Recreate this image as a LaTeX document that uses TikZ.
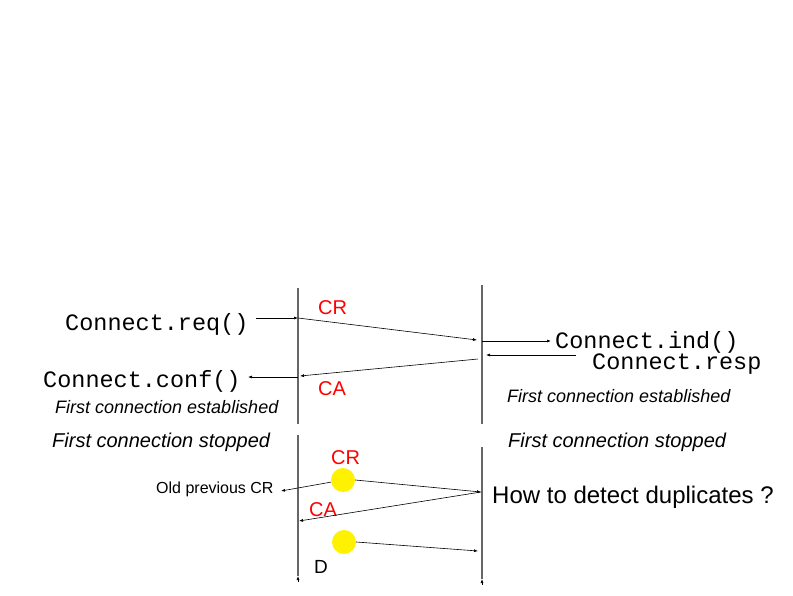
\documentclass[tikz,border=0pt]{standalone}
\usepackage{fontspec}
\setmainfont{Liberation Sans}
\newfontfamily\codefont{Liberation Mono}
\usetikzlibrary{arrows.meta}

\begin{document}
\begin{tikzpicture}[x=1pt,y=-1pt,>={Latex[length=4pt,width=3pt]}]
\tikzset{
  lifeline/.style={draw=black!60, line width=1.5pt},
  msg/.style={->, line width=0.6pt},
  prim/.style={anchor=base west, inner sep=0pt, font=\codefont\fontsize{23.5}{26}\selectfont},
  note/.style={anchor=base west, inner sep=0pt, font=\itshape\fontsize{18}{21}\selectfont},
  stopnote/.style={anchor=base west, inner sep=0pt, font=\itshape\fontsize{20}{23}\selectfont},
  pdu/.style={anchor=base west, inner sep=0pt, text=red, font=\fontsize{20}{23}\selectfont},
  dup/.style={circle, fill=yellow, inner sep=0pt, minimum size=24pt}
}
\useasboundingbox (0,0) rectangle (793,595);

% Lifelines
\coordinate (lt) at (298,288);
\coordinate (lb) at (298,424);
\coordinate (rt) at (482,285);
\coordinate (rb) at (482,424);
\draw[lifeline] (lt) -- (lb);
\draw[lifeline] (rt) -- (rb);

% Service primitives
\node[prim] (req) at (65,330) {Connect.req()};
\node[prim] (ind) at (555,348) {Connect.ind()};
\node[prim] (resp) at (592,369) {Connect.resp};
\node[prim] (conf) at (43,387) {Connect.conf()};

\coordinate (reqs) at (256,318);
\coordinate (reqe) at (298,318);
\coordinate (cre) at (477,340);
\coordinate (inds) at (482,341);
\coordinate (inde) at (551,341);
\coordinate (resps) at (576,355);
\coordinate (respe) at (486,355);
\coordinate (cas) at (478,359);
\coordinate (cae) at (300,376);
\coordinate (confs) at (298,377);
\coordinate (confe) at (248,377);

\draw[msg] (reqs) -- (reqe);
\draw[msg] (reqe) -- (cre);
\draw[msg] (inds) -- (inde);
\draw[msg] (resps) -- (respe);
\draw[msg] (cas) -- (cae);
\draw[msg] (confs) -- (confe);

\node[pdu] (cr1) at (318,314) {CR};
\node[pdu] (ca1) at (318,395) {CA};

% Notes
\node[note] (estl) at (55,413) {First connection established};
\node[note] (estr) at (507,402) {First connection established};
\node[stopnote] (stopl) at (52,447) {First connection stopped};
\node[stopnote] (stopr) at (508,447) {First connection stopped};

% Second part: duplicates
\coordinate (lt2) at (298,435);
\coordinate (lb2) at (298,576);
\coordinate (rt2) at (482,447);
\coordinate (rb2) at (482,579);
\draw[lifeline] (lt2) -- (lb2);
\draw[lifeline] (rt2) -- (rb2);
\draw[msg] ([yshift=-6pt]lb2) -- (lb2);
\draw[msg] ([yshift=-6pt]rb2) -- (rb2);

\node[dup] (dup1) at (343,480) {};
\node[dup] (dup2) at (344,542) {};
\node[pdu] (cr2) at (331,464) {CR};
\node[pdu] (ca2) at (309,516) {CA};

\coordinate (crd) at (481,492);
\coordinate (cad) at (299,521);
\coordinate (old) at (281,491);
\coordinate (dupd) at (478,551);

\draw[msg] (dup1.east) -- (crd);
\draw[msg] (crd) -- (cad);
\draw[msg] (dup1.190) -- (old);
\draw[msg] (dup2.east) -- (dupd);

\node[anchor=base west, inner sep=0pt, font=\fontsize{16}{19}\selectfont] (oldcr) at (156,493) {Old previous CR};
\node[anchor=base west, inner sep=0pt, font=\fontsize{19}{22}\selectfont] (d) at (314,573) {D};
\node[anchor=base west, inner sep=0pt, font=\fontsize{24}{28}\selectfont] (howto) at (492,503) {How to detect duplicates ?};

\end{tikzpicture}
\end{document}
